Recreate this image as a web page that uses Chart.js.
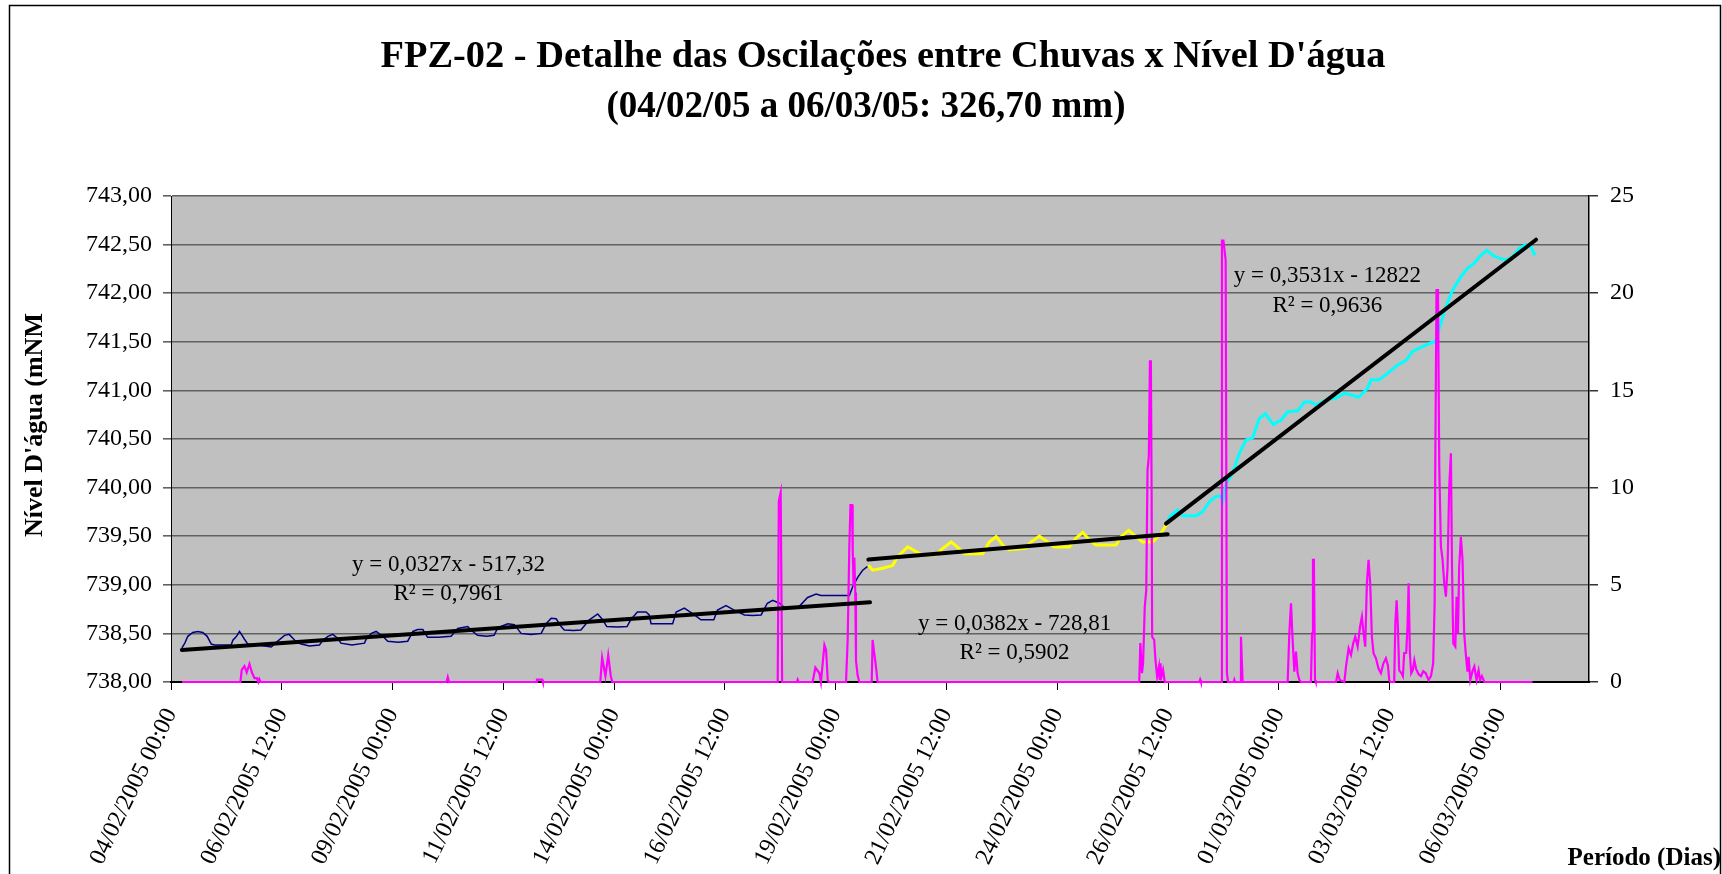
<!DOCTYPE html>
<html>
<head>
<meta charset="utf-8">
<script src="https://cdn.jsdelivr.net/npm/chart.js@4.4.1/dist/chart.umd.min.js"></script>
<style>
  html, body { margin: 0; padding: 0; background: #fff; }
  #wrap { width: 1722px; height: 874px; }
</style>
</head>
<body>
<div id="wrap"><canvas id="c" width="1722" height="874"></canvas></div>
<script>
// ---------------- DATA (hours counted from 04/02/2005 00:00) ----------------
const titleLines = ["FPZ-02 - Detalhe das Oscilações entre Chuvas x Nível D'água", "(04/02/05 a 06/03/05: 326,70 mm)"];
const yTitle = "Nível D'água (mNM";
const xTitle = "Período (Dias)";

const tickHours = [0, 60, 120, 180, 240, 300, 360, 420, 480, 540, 600, 660, 720];
const tickLabels = ['04/02/2005 00:00', '06/02/2005 12:00', '09/02/2005 00:00', '11/02/2005 12:00',
  '14/02/2005 00:00', '16/02/2005 12:00', '19/02/2005 00:00', '21/02/2005 12:00', '24/02/2005 00:00',
  '26/02/2005 12:00', '01/03/2005 00:00', '03/03/2005 12:00', '06/03/2005 00:00'];

// Water level, first period (navy)
const levelBlue = [
  [5.9, 738.35], [7.5, 738.40], [9.1, 738.47], [11.8, 738.51], [14.5, 738.52], [17.2, 738.51], [19.6, 738.47],
  [21.8, 738.39], [23.6, 738.38], [32.6, 738.38], [33.5, 738.43], [35.5, 738.47], [37.1, 738.52], [38.5, 738.48],
  [39.8, 738.44], [41.6, 738.39], [47, 738.38], [54.3, 738.36], [57.8, 738.42], [61.5, 738.48], [64, 738.49],
  [66, 738.45], [68, 738.41], [70.5, 738.39], [75, 738.37], [80.4, 738.38], [82.2, 738.43], [85, 738.47],
  [87.6, 738.49], [90.3, 738.45], [92, 738.40], [98, 738.38], [104.8, 738.40], [105.7, 738.44], [108.5, 738.50],
  [111.1, 738.52], [114.7, 738.47], [117.4, 738.42], [123, 738.41], [128.2, 738.42], [131, 738.52], [133.6, 738.54],
  [136.4, 738.54], [139, 738.46], [145, 738.46], [151.7, 738.47], [155.3, 738.55], [160.7, 738.57], [163.4, 738.52],
  [166, 738.48], [171, 738.47], [175, 738.48], [177, 738.56], [182.4, 738.60], [186, 738.59], [189.6, 738.50],
  [195, 738.49], [200.5, 738.50], [203.2, 738.60], [205.9, 738.655], [208.6, 738.65], [211.3, 738.57],
  [213, 738.535], [218, 738.53], [222, 738.535], [226.6, 738.64], [231.1, 738.70], [233.8, 738.64], [236, 738.57],
  [242, 738.565], [247, 738.57], [249, 738.64], [252.6, 738.72], [257.3, 738.72], [259, 738.69], [260, 738.60],
  [271.7, 738.60], [273.6, 738.72], [278, 738.76], [283.5, 738.69], [287, 738.64], [294, 738.64], [296, 738.74],
  [300.6, 738.785], [305, 738.74], [310.6, 738.69], [315, 738.685], [319.6, 738.69], [323, 738.81], [325.9, 738.84],
  [329.5, 738.81], [332, 738.77], [334, 738.76], [339.4, 738.76], [344.8, 738.87], [349.4, 738.905], [352, 738.89],
  [360, 738.89], [367.4, 738.89], [369.2, 738.98], [372, 739.08], [374.6, 739.15], [377.3, 739.19]
];

// Water level, second period (yellow)
const levelYellow = [
  [377.7, 739.20], [380, 739.15], [385.5, 739.17], [390.9, 739.20], [393.6, 739.29], [399, 739.39], [401.8, 739.36],
  [406.3, 739.31], [414.4, 739.31], [418, 739.375], [422.6, 739.44], [427, 739.37], [429.7, 739.32], [439.6, 739.32],
  [443.2, 739.44], [446.9, 739.495], [451.3, 739.39], [454, 739.36], [463, 739.375], [465.8, 739.44], [470.3, 739.50],
  [474.8, 739.44], [478.4, 739.39], [486.5, 739.39], [490.2, 739.48], [493.8, 739.54], [497.4, 739.46], [501, 739.41],
  [511.8, 739.41], [514.5, 739.495], [518.7, 739.56], [522.7, 739.495], [526.2, 739.44], [531.7, 739.44],
  [536.2, 739.53], [538.5, 739.60], [539.8, 739.63]
];

// Water level, third period (cyan)
const levelCyan = [
  [539.8, 739.63], [540.7, 739.70], [545.2, 739.77], [547.9, 739.71], [555.1, 739.71], [558.7, 739.75],
  [562.4, 739.855], [566, 739.91], [568.7, 739.91], [569.5, 739.85], [571.4, 740.04], [575, 740.15], [578.6, 740.35],
  [582.2, 740.49], [585.8, 740.51], [589.4, 740.71], [592.7, 740.76], [597, 740.65], [601.2, 740.695], [604.8, 740.78],
  [610.2, 740.79], [613.8, 740.88], [617.4, 740.88], [620.1, 740.85], [625.5, 740.90], [630.9, 740.92], [635.5, 740.97],
  [640, 740.95], [643.2, 740.93], [648, 741.02], [650, 741.11], [654.4, 741.11], [659.8, 741.19], [664.3, 741.26],
  [668.9, 741.31], [672.4, 741.40], [677.8, 741.45], [682.4, 741.49], [684.7, 741.50], [686.9, 741.64], [690.5, 741.86],
  [694.1, 742.03], [698.6, 742.17], [702.2, 742.255], [705.9, 742.31], [708.6, 742.375], [712.5, 742.44],
  [715.8, 742.39], [719.4, 742.36], [723, 742.34], [726.6, 742.375], [730.2, 742.46], [733.8, 742.50],
  [736.5, 742.48], [738.7, 742.39]
];

// Rainfall (mm, right axis)
const rain = [
  [6, 0], [37.6, 0], [38.3, 0.62], [39.8, 0.82], [41, 0.5], [42.5, 0.93], [43.8, 0.5], [45.2, 0.2], [46.5, 0.2],
  [47.3, 0], [47.8, 0.15], [48.5, 0],
  [149.2, 0], [149.9, 0.25], [150.6, 0],
  [197.8, 0], [198.2, 0.12], [201, 0.12], [201.4, 0],
  [232.5, 0], [233.5, 1.25], [235.3, 0.3], [236.8, 1.38], [238.2, 0.3], [239, 0],
  [328.6, 0], [329.2, 9.3], [330.2, 9.75], [331, 0],
  [339, 0], [339.4, 0.12], [339.9, 0],
  [347.5, 0], [349, 0.75], [351.2, 0.45], [352, 0], [353.9, 1.9], [354.8, 1.65], [355.7, 0.1], [356.2, 0],
  [365.6, 0], [366.5, 2.2], [367.4, 7], [368, 9.1], [368.9, 9.1], [369.2, 6.8], [369.7, 4.9], [370.1, 6.4],
  [370.6, 4.6], [371, 1.1], [371.9, 0.33], [372.8, 0],
  [379.5, 0], [380, 2.16], [380.9, 1.47], [381.8, 0.8], [382.7, 0],
  [524.4, 0], [525, 2.0], [525.9, 0.45], [526.5, 1.0], [527.4, 3.87], [528.2, 4.73], [528.9, 10.9], [529.6, 11.6],
  [530.2, 16.5], [530.7, 16.5], [531.1, 9.9], [531.4, 2.33], [532.5, 2.16], [533.2, 1.12], [534.1, 0.27],
  [535.1, 0.79], [535.5, 0.1], [535.9, 0.96], [536.4, 0.27], [537.3, 0.62], [538.2, 0],
  [557, 0], [557.4, 0.12], [557.8, 0],
  [568.7, 0], [569.2, 22.7], [570, 22.7], [571.2, 21.7], [571.9, 0.45], [572.5, 0],
  [575.5, 0], [575.9, 0.12], [576.3, 0], [579, 0], [579.5, 2.33], [580.4, 0],
  [604.8, 0], [605.7, 2.5], [606.6, 4.05], [607.4, 2.32], [608.4, 0.53], [609.3, 1.56], [610.2, 0.45], [611.1, 0.1],
  [612, 0],
  [617.4, 0], [618, 2.5], [618.5, 6.28], [619, 6.28], [619.6, 0.1], [620, 0],
  [631, 0], [631.9, 0.45], [633, 0.1], [635.5, 0], [636.4, 0.8], [637.8, 1.73], [639.1, 1.39], [640.3, 1.99],
  [641.4, 2.33], [642.7, 1.82], [644, 2.85], [645, 3.36], [645.9, 2.5], [646.8, 1.82], [647.7, 5.08], [648.6, 6.28],
  [649.5, 5.08], [650.4, 2.33], [651.3, 1.48], [652.6, 1.22], [654, 0.69], [655.3, 0.45], [656.6, 0.95],
  [658, 1.22], [659.1, 0.85], [659.8, 0.1], [660.5, 0],
  [662.5, 0], [663.1, 3.0], [663.8, 4.2], [664.5, 2.85], [665.2, 0.6], [666.5, 0.45], [667.2, 0.3], [667.9, 1.48],
  [669, 1.5], [669.7, 2.85], [670.3, 5.08], [671, 1.48], [671.7, 0.45], [672.5, 0.6], [673.4, 1.12], [674.3, 0.69],
  [675.7, 0.4], [677, 0.3], [678.2, 0.55], [679.6, 0.45], [681.1, 0.1], [682.4, 0.3], [683.6, 0.95], [684.4, 4.05],
  [684.7, 10.56], [685.4, 20.16], [686.2, 20.16], [686.9, 11.07], [687.8, 6.96], [688.7, 6.28], [689.6, 5.08],
  [690.5, 4.39], [691.4, 5.93], [692.3, 10.05], [693.2, 11.76], [693.8, 5.93], [694.5, 1.99], [695.6, 1.82],
  [696.3, 4.39], [697, 2.5], [697.7, 5.93], [698.6, 7.47], [699.5, 6.28], [700.4, 2.5], [701.4, 1.3], [702.2, 0.53],
  [702.8, 1.3], [703.7, 0.1], [705, 0.6], [705.9, 0.8], [707.1, 0.1], [708.2, 0.6], [709, 0.1], [710, 0.3],
  [711.3, 0], [737.4, 0]
];

// Linear trend lines (end points) and their equations
const trend1 = [[5.9, 738.33], [378.6, 738.82]];
const trend2 = [[377.7, 739.26], [539.8, 739.52]];
const trend3 = [[538.9, 739.63], [739.3, 742.55]];
const trendLabels = [
  { eq: 'y = 0,0327x - 517,32', r2: 'R² = 0,7961', x: 150.3, yEq: 739.14, yR2: 738.84 },
  { eq: 'y = 0,0382x - 728,81', r2: 'R² = 0,5902', x: 456.9, yEq: 738.53, yR2: 738.235 },
  { eq: 'y = 0,3531x - 12822', r2: 'R² = 0,9636', x: 626.3, yEq: 742.12, yR2: 741.81 }
];

// ---------------- CHART ----------------
const SERIF = "'Liberation Serif', 'Times New Roman', serif";
const toXY = arr => arr.map(p => ({ x: p[0], y: p[1] }));

const bgPlugin = {
  id: 'bg',
  beforeDraw(chart) {
    const { ctx, chartArea: a } = chart;
    ctx.save();
    ctx.fillStyle = '#ffffff';
    ctx.fillRect(0, 0, chart.width, chart.height);
    ctx.fillStyle = '#c0c0c0';
    ctx.fillRect(a.left, a.top, a.right - a.left, a.bottom - a.top);
    ctx.restore();
  }
};

const textPlugin = {
  id: 'texts',
  afterDatasetsDraw(chart) {
    const { ctx, scales } = chart;
    ctx.save();
    ctx.fillStyle = '#000';
    ctx.textAlign = 'center';
    ctx.textBaseline = 'alphabetic';
    ctx.font = '23px ' + SERIF;
    trendLabels.forEach(t => {
      const px = scales.x.getPixelForValue(t.x);
      ctx.fillText(t.eq, px, scales.y.getPixelForValue(t.yEq));
      ctx.fillText(t.r2, px, scales.y.getPixelForValue(t.yR2));
    });
    ctx.restore();
  },
  afterDraw(chart) {
    const { ctx } = chart;
    ctx.save();
    ctx.fillStyle = '#000';
    ctx.textAlign = 'center';
    ctx.textBaseline = 'alphabetic';
    ctx.font = 'bold 38.4px ' + SERIF;
    ctx.fillText(titleLines[0], 883, 67);
    ctx.font = 'bold 37px ' + SERIF;
    ctx.fillText(titleLines[1], 866, 117);
    // y axis title
    ctx.font = 'bold 26px ' + SERIF;
    ctx.save();
    ctx.translate(42, 425);
    ctx.rotate(-Math.PI / 2);
    ctx.fillText(yTitle, 0, 0);
    ctx.restore();
    // x axis title
    ctx.font = 'bold 25px ' + SERIF;
    ctx.textAlign = 'right';
    ctx.fillText(xTitle, 1721, 865);
    // outer frame
    ctx.strokeStyle = '#000';
    ctx.lineWidth = 1.5;
    ctx.beginPath();
    ctx.moveTo(9.5, 874);
    ctx.lineTo(9.5, 5.5);
    ctx.lineTo(1720.5, 5.5);
    ctx.lineTo(1720.5, 874);
    ctx.stroke();
    ctx.restore();
  }
};

const lineDs = (label, arr, color, width, axis, extra) => Object.assign({
  label, data: toXY(arr), borderColor: color, backgroundColor: color, borderWidth: width,
  pointRadius: 0, tension: 0, fill: false, yAxisID: axis
}, extra || {});

new Chart(document.getElementById('c'), {
  type: 'line',
  data: {
    datasets: [
      lineDs('Tendência 1', trend1, '#000000', 4, 'y', { borderCapStyle: 'round' }),
      lineDs('Tendência 2', trend2, '#000000', 4, 'y', { borderCapStyle: 'round' }),
      lineDs('Tendência 3', trend3, '#000000', 4, 'y', { borderCapStyle: 'round' }),
      lineDs('Chuva (mm)', rain, '#ff00ff', 2.2, 'y2', { clip: false }),
      lineDs('Nível 3', levelCyan, '#00ffff', 3, 'y'),
      lineDs('Nível 2', levelYellow, '#ffff00', 3, 'y'),
      lineDs('Nível 1', levelBlue, '#000080', 1.5, 'y')
    ]
  },
  options: {
    responsive: false,
    animation: false,
    devicePixelRatio: 1,
    layout: { padding: { top: 196, left: 0, right: 0, bottom: 0 } },
    plugins: { legend: { display: false }, tooltip: { enabled: false }, title: { display: false } },
    scales: {
      x: {
        type: 'linear', position: 'bottom', min: 0, max: 768,
        afterBuildTicks: s => { s.ticks = tickHours.map(v => ({ value: v })); },
        afterFit: s => { s.height = 192; },
        grid: { drawOnChartArea: false, color: '#000', tickLength: 8, lineWidth: 1 },
        border: { color: '#000', width: 2 },
        ticks: {
          autoSkip: false, minRotation: 64, maxRotation: 64, padding: 14, color: '#000',
          font: { family: SERIF, size: 24 },
          callback: v => { const i = tickHours.indexOf(v); return i >= 0 ? tickLabels[i] : ''; }
        }
      },
      y: {
        position: 'left', min: 738, max: 743,
        afterFit: s => { s.width = 171; },
        grid: { color: '#616161', lineWidth: 1.6, tickLength: 8 },
        border: { color: '#000', width: 1 },
        ticks: {
          stepSize: 0.5, padding: 11, color: '#000', font: { family: SERIF, size: 24 },
          callback: v => v.toFixed(2).replace('.', ',')
        }
      },
      y2: {
        position: 'right', min: 0, max: 25,
        afterFit: s => { s.width = 133; },
        grid: { drawOnChartArea: false, color: '#333', lineWidth: 1.5, tickLength: 9 },
        border: { color: '#000', width: 1.5 },
        ticks: { stepSize: 5, padding: 12, color: '#000', font: { family: SERIF, size: 24 } }
      }
    }
  },
  plugins: [bgPlugin, textPlugin]
});
</script>
</body>
</html>
